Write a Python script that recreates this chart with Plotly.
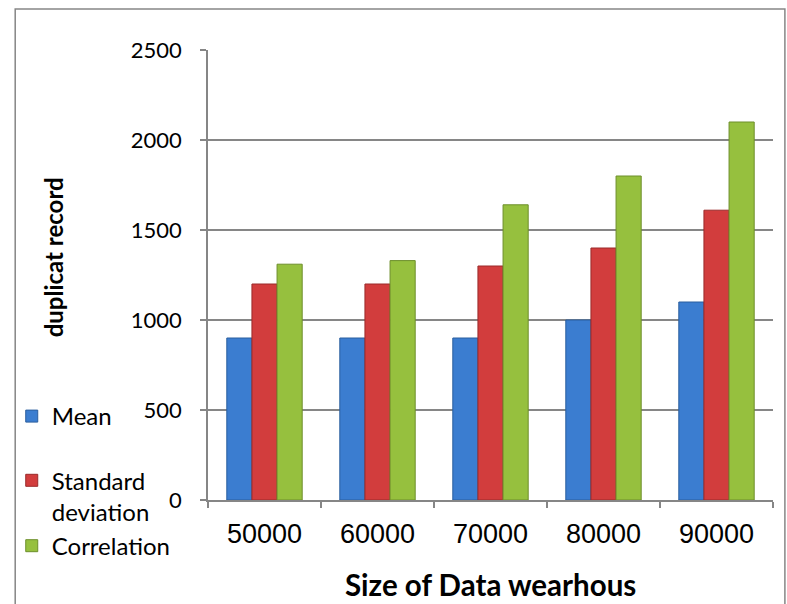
import plotly.graph_objects as go

categories = ["50000", "60000", "70000", "80000", "90000"]
mean_vals = [900, 900, 900, 1000, 1100]
std_vals = [1200, 1200, 1300, 1400, 1610]
corr_vals = [1310, 1330, 1640, 1800, 2100]
series_names = ["Mean", "Standard<br>deviation", "Correlation"]
y_ticks = [0, 500, 1000, 1500, 2000, 2500]

W, H = 787, 604
L, R, T, B = 203, 14, 50, 104
pw, ph = W - L - R, H - T - B

def px_to_paper_x(px):
    return (px - L) / pw

def px_to_paper_y(py):
    return (H - B - py) / ph

colors = ["#3b7dd0", "#d23d3d", "#96c03e"]
edges = ["#2a5e9e", "#9a2a2a", "#6d8f2a"]
groups = ["a", "b", "b"]

fig = go.Figure()
for name, vals, c, e, g in zip(series_names, [mean_vals, std_vals, corr_vals], colors, edges, groups):
    fig.add_trace(go.Bar(
        x=categories, y=vals, name=name,
        marker=dict(color=c, line=dict(color=e, width=1)),
        legendgroup=g,
    ))

fig.update_layout(
    width=W, height=H,
    margin=dict(l=L, r=R, t=T, b=B),
    paper_bgcolor="white", plot_bgcolor="white",
    barmode="group", bargap=0.333, bargroupgap=0,
    font=dict(family="Lato, Calibri, sans-serif", color="black"),
    legend=dict(
        x=px_to_paper_x(5), xanchor="left",
        y=px_to_paper_y(394), yanchor="top",
        font=dict(size=24, family="Lato"),
        tracegroupgap=30, valign="top",
        bgcolor="rgba(0,0,0,0)",
    ),
    showlegend=True,
)
fig.update_xaxes(
    showline=True, linecolor="#868686", linewidth=1.5,
    ticks="outside", tickson="boundaries", ticklen=6, tickcolor="#868686", tickwidth=1.5,
    tickfont=dict(family="Liberation Sans, Arial", size=27),
    ticklabelstandoff=9,
    showgrid=False,
)
fig.update_yaxes(
    range=[0, 2500], tickvals=y_ticks,
    showline=True, linecolor="#868686", linewidth=1.5,
    ticks="outside", ticklen=6, tickcolor="#868686", tickwidth=1.5,
    showgrid=True, gridcolor="#868686", gridwidth=1.5,
    tickfont=dict(family="Lato", size=22),
    ticklabelstandoff=14, zeroline=False,
)
fig.add_annotation(
    text="<b>Size of Data wearhous</b>", xref="paper", yref="paper",
    x=0.5, y=px_to_paper_y(584), xanchor="center", yanchor="middle",
    showarrow=False, font=dict(family="Lato", size=29.5, color="black"),
)
fig.add_annotation(
    text="<b>duplicat record</b>", xref="paper", yref="paper",
    x=px_to_paper_x(47), y=px_to_paper_y(257), xanchor="center", yanchor="middle",
    textangle=-90, showarrow=False, font=dict(family="Lato", size=24, color="black"),
)
fig.add_shape(
    type="rect", xref="paper", yref="paper",
    x0=px_to_paper_x(8.5), x1=px_to_paper_x(785), y0=px_to_paper_y(650), y1=px_to_paper_y(9),
    line=dict(color="#868686", width=1.5), layer="below",
)
fig.write_html(
    "out.html",
    config={"displayModeBar": False},
    post_script="document.body.style.margin='0';document.body.style.overflow='hidden';",
)
